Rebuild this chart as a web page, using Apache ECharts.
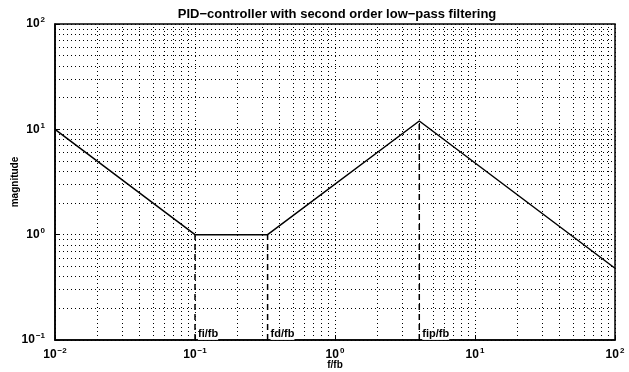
<!DOCTYPE html>
<html>
<head>
<meta charset="utf-8">
<script src="https://cdn.jsdelivr.net/npm/echarts@6/dist/echarts.min.js"></script>
<style>
html,body{margin:0;padding:0;background:#fff;}
#chart{width:629px;height:372px;}
</style>
</head>
<body>
<div id="chart"></div>
<script>
// Data
const freq = [0.01, 0.1, 0.33, 4, 100];
const magnitude = [10, 1, 1, 12, 0.48];
const markerFreq = [0.1, 0.33, 4];
const markerMag = [1, 1, 12];
const markerLabels = ['fi/fb', 'fd/fb', 'fip/fb'];
const xDecades = [-2, -1, 0, 1];
const yDecades = [-1, 0, 1];
const minorMultipliers = [2, 3, 4, 5, 6, 7, 8, 9];
const titleText = 'PID\u2212controller with second order low\u2212pass filtering';

const FONT = 'Liberation Sans';
const chart = echarts.init(document.getElementById('chart'));

const dotted = { color: '#000', width: 1, type: [1, 3] };

const gridLines = [];
xDecades.forEach(d => minorMultipliers.forEach(m => gridLines.push({ xAxis: m * Math.pow(10, d) })));
yDecades.forEach(d => minorMultipliers.forEach(m => gridLines.push({ yAxis: m * Math.pow(10, d) })));

function powLabel(v) {
  const e = Math.round(Math.log10(v));
  const s = e < 0 ? '\u2212' + (-e) : String(e);
  return '{b|10}{s|' + s + '}';
}
const labelRich = {
  b: { fontFamily: FONT, fontWeight: 'bold', fontSize: 12, color: '#000' },
  s: { fontFamily: FONT, fontWeight: 'bold', fontSize: 8, color: '#000', padding: [0, 0, 8, 1] }
};

const series = [{
  type: 'line',
  data: freq.map((f, i) => [f, magnitude[i]]),
  symbol: 'none',
  lineStyle: { color: '#000', width: 1.5 },
  z: 5,
  markLine: {
    silent: true,
    symbol: 'none',
    label: { show: false },
    lineStyle: dotted,
    animation: false,
    data: gridLines
  }
}];

markerFreq.forEach((f, i) => {
  series.push({
    type: 'line',
    data: [[f, 0.1], [f, markerMag[i]]],
    symbol: 'none',
    lineStyle: { color: '#000', width: 1.5, type: [6, 4] },
    z: 4
  });
  series.push({
    type: 'scatter',
    data: [[f, 0.113]],
    symbolSize: 0,
    itemStyle: { opacity: 1, color: '#000' },
    label: {
      show: true,
      position: 'right',
      distance: 3,
      formatter: markerLabels[i],
      fontFamily: FONT,
      fontWeight: 'bold',
      fontSize: 11,
      color: '#000',
      opacity: 1,
      backgroundColor: '#fff'
    },
    z: 6
  });
});

chart.setOption({
  animation: false,
  backgroundColor: '#fff',
  title: {
    text: titleText,
    left: 332,
    textAlign: 'center',
    top: 3,
    textStyle: { fontFamily: FONT, fontWeight: 'bold', fontSize: 13, color: '#000' }
  },
  grid: {
    left: 55, right: 14, top: 24, bottom: 32,
    containLabel: false, outerBoundsMode: 'none',
    show: true, borderColor: '#000', borderWidth: 1.5, backgroundColor: 'transparent'
  },
  xAxis: {
    type: 'log', logBase: 10, min: 0.01, max: 100,
    name: 'f/fb', nameLocation: 'middle', nameGap: 20, nameMoveOverlap: false,
    nameTextStyle: { fontFamily: FONT, fontWeight: 'bold', fontSize: 10, color: '#000' },
    axisLine: { show: true, lineStyle: { color: '#000', width: 1.5 } },
    axisTick: { show: true, inside: true, length: 5, lineStyle: { color: '#000' } },
    axisLabel: { margin: 7, formatter: powLabel, rich: labelRich },
    splitLine: { show: true, lineStyle: dotted }
  },
  yAxis: {
    type: 'log', logBase: 10, min: 0.1, max: 100,
    name: 'magnitude', nameLocation: 'middle', nameGap: 35, nameRotate: 90, nameMoveOverlap: false,
    nameTextStyle: { fontFamily: FONT, fontWeight: 'bold', fontSize: 10, color: '#000' },
    axisLine: { show: true, lineStyle: { color: '#000', width: 1.5 } },
    axisTick: { show: true, inside: true, length: 5, lineStyle: { color: '#000' } },
    axisLabel: { margin: 10, formatter: powLabel, rich: labelRich },
    splitLine: { show: true, lineStyle: dotted }
  },
  series: series
});
</script>
</body>
</html>
